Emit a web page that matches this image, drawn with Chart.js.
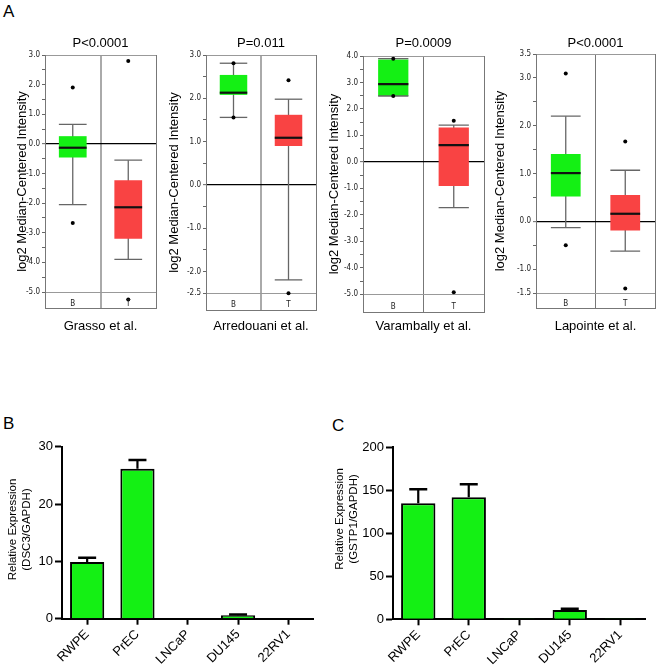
<!DOCTYPE html>
<html>
<head>
<meta charset="utf-8">
<script src="https://cdn.jsdelivr.net/npm/chart.js@4.4.1/dist/chart.umd.min.js"></script>
<style>
html,body{margin:0;padding:0;background:#fff;}
body{width:660px;height:670px;position:relative;overflow:hidden;font-family:'Liberation Sans',Arial,sans-serif;}
canvas{position:absolute;}
.letter{position:absolute;font-size:17px;line-height:17px;color:#000;}
</style>
</head>
<body>
<div class="letter" style="left:3px;top:3px">A</div>
<div class="letter" style="left:3px;top:415px">B</div>
<div class="letter" style="left:332px;top:417px">C</div>
<canvas id="a0"></canvas>
<canvas id="a1"></canvas>
<canvas id="a2"></canvas>
<canvas id="a3"></canvas>
<canvas id="b0"></canvas>
<canvas id="c0"></canvas>
<script>
// ---------------- DATA ----------------
// Panel A: box plots (B = benign, T = tumour), one row per study
const categories = ['B', 'T'];
const studies = ['Grasso et al.', 'Arredouani et al.', 'Varambally et al.', 'Lapointe et al.'];
const pLabels = ['P<0.0001', 'P=0.011', 'P=0.0009', 'P<0.0001'];
const whiskerLow  = [[-2.05, -3.90], [1.56, -2.19], [2.49, -1.73], [-0.13, -0.62]];
const quartile1   = [[-0.46, -3.20], [2.08,  0.90], [2.49, -0.91], [ 0.52, -0.19]];
const medians     = [[-0.13, -2.14], [2.13,  1.09], [2.94,  0.63], [ 1.01,  0.16]];
const quartile3   = [[ 0.26, -1.23], [2.54,  1.62], [3.87,  1.30], [ 1.41,  0.55]];
const whiskerHigh = [[ 0.66, -0.55], [2.81,  1.98], [3.90,  1.39], [ 2.20,  1.07]];
const outliersB   = [[1.90, -2.67], [2.81, 1.56], [3.90, 2.49], [3.09, -0.50]];
const outliersT   = [[2.80, -5.25], [2.42, -2.50], [1.55, -4.92], [1.67, -1.40]];
// labelled y ticks of each box plot (minor ticks every 0.5)
const yTickLabels = [
  [3, 2, 1, 0, -1, -2, -3, -4, -5],
  [3, 2, 1, 0, -1, -2, -2.5],
  [4, 3, 2, 1, 0, -1, -2, -3, -4, -5],
  [3.5, 3, 2, 1, 0, -1, -1.5]
];

// Panels B and C: qPCR bars
const cellLines = ['RWPE', 'PrEC', 'LNCaP', 'DU145', '22RV1'];
const dsc3Mean  = [9.88, 26.16, 0.10, 0.58, 0.03];
const dsc3Sem   = [0.76, 1.50, 0, 0.17, 0];
const gstp1Mean = [134.9, 141.9, 0.2, 10.85, 0.2];
const gstp1Sem  = [16.3, 15.1, 0, 1.5, 0];
const dsc3Ticks  = [0, 10, 20, 30];
const gstp1Ticks = [0, 50, 100, 150, 200];

// ---------------- STYLE / LAYOUT ----------------
Chart.defaults.font.family = "'Liberation Sans', Arial, sans-serif";
Chart.defaults.color = '#000';
const GREEN = '#14f014', RED = '#f94343';
const BOX_FRACTION = 0.5;
const NARROW = "'Liberation Sans Narrow', 'DejaVu Sans Condensed', sans-serif";

const boxLayout = [
  {left: 11,  width: 149, yw: 34, th: 25, xh: 30, min: -5.54,  div: '#aaa', divW: 2},
  {left: 163, width: 157, yw: 43, th: 25, xh: 28, min: -2.885, div: '#aaa', divW: 2},
  {left: 323, width: 165, yw: 40, th: 26, xh: 26, min: -5.67,  div: '#777', divW: 1},
  {left: 489, width: 170, yw: 47, th: 24, xh: 30, min: -1.81,  div: '#777', divW: 1}
];

function halfBox(ctx) {
  const a = ctx.chart.chartArea;
  if (!a) return 0;
  return (a.right - a.left) / categories.length * BOX_FRACTION / 2;
}

const boxLabels = {
  id: 'boxLabels',
  afterDatasetsDraw(chart, args, opts) {
    const {ctx, chartArea, scales} = chart;
    const yb = (scales.y.getPixelForValue(opts.bottom) + chartArea.bottom) / 2 + 3.5;
    ctx.save();
    ctx.font = '8px ' + NARROW;
    ctx.fillStyle = '#222';
    ctx.textAlign = 'center';
    ctx.textBaseline = 'middle';
    chart.data.labels.forEach((l, i) => ctx.fillText(l, scales.x.getPixelForValue(i), yb));
    ctx.restore();
  }
};

function placeCanvas(id, left, top, width, height) {
  const c = document.getElementById(id);
  c.width = width; c.height = height;
  c.style.left = left + 'px'; c.style.top = top + 'px';
  c.style.width = width + 'px'; c.style.height = height + 'px';
  return c;
}

function boxChart(i) {
  const g = boxLayout[i];
  const canvas = placeCanvas('a' + i, g.left, 30, g.width, 308);
  const labelled = yTickLabels[i];
  const top = labelled[0], bottom = labelled[labelled.length - 1];
  const tickVals = [];
  for (let v = top * 2; v >= bottom * 2; v--) tickVals.push(v / 2);

  const stems = [];
  const caps = [];
  const outs = [];
  categories.forEach((c, k) => {
    stems.push({x: c, y: whiskerLow[i][k]}, {x: c, y: whiskerHigh[i][k]}, {x: c, y: null});
    caps.push({x: c, y: whiskerLow[i][k]}, {x: c, y: whiskerHigh[i][k]});
  });
  const outVals = [outliersB[i], outliersT[i]];
  categories.forEach((c, k) => outVals[k].forEach(v => outs.push({x: c, y: v})));

  new Chart(canvas, {
    type: 'bar',
    plugins: [boxLabels],
    data: {
      labels: categories,
      datasets: [
        {type: 'line', data: stems, borderColor: '#666', borderWidth: 1.3, pointRadius: 0, spanGaps: false, order: 4},
        {data: categories.map((c, k) => [quartile1[i][k], quartile3[i][k]]), backgroundColor: [GREEN, RED],
         barPercentage: BOX_FRACTION, categoryPercentage: 1, order: 3},
        {type: 'line', data: caps, showLine: false, pointStyle: 'line', pointRadius: halfBox,
         pointBorderColor: '#666', pointBorderWidth: 1.3, order: 2},
        {type: 'line', data: medians[i], showLine: false, pointStyle: 'line', pointRadius: halfBox,
         pointBorderColor: '#111', pointBorderWidth: 2.2, order: 1},
        {type: 'line', data: outs, showLine: false, pointStyle: 'circle', pointRadius: 2,
         pointBackgroundColor: '#000', pointBorderWidth: 0, order: 0}
      ]
    },
    options: {
      responsive: false, animation: false, events: [],
      layout: {padding: {right: 2}},
      plugins: {legend: {display: false}, tooltip: {enabled: false}, boxLabels: {bottom: bottom}},
      scales: {
        x: {
          type: 'category', position: 'bottom', offset: true,
          grid: {offset: true, drawTicks: false,
                 color: c => c.index === 1 ? g.div : '#777',
                 lineWidth: c => c.index === 1 ? g.divW : 1},
          border: {display: true, color: '#777', width: 1},
          ticks: {display: false},
          title: {display: true, text: studies[i], font: {size: 13}, color: '#000', padding: {top: 0, bottom: 4}},
          afterFit: s => { s.height = g.xh; }
        },
        x2: {
          type: 'category', position: 'top',
          grid: {display: false}, border: {display: false}, ticks: {display: false},
          title: {display: true, text: pLabels[i], font: {size: 13}, color: '#000', padding: {top: 6, bottom: 0}},
          afterFit: s => { s.height = g.th; }
        },
        y: {
          type: 'linear', min: g.min, max: top,
          afterBuildTicks: s => { s.ticks = tickVals.map(v => ({value: v})); },
          ticks: {
            autoSkip: false, padding: 2, color: '#222', font: {family: NARROW, size: 8},
            callback: v => labelled.includes(v) ? v.toFixed(1) : ''
          },
          grid: {
            color: c => c.tick.value === 0 ? '#000' : ((c.tick.value === bottom || c.tick.value === top) ? '#999' : 'rgba(0,0,0,0)'),
            lineWidth: c => c.tick.value === 0 ? 1.3 : 1,
            tickColor: '#666', tickLength: 3, tickWidth: 1
          },
          border: {display: true, color: '#777', width: 1},
          title: {display: true, text: 'log2 Median-Centered Intensity', font: {size: 13}, color: '#000', padding: {top: 4, bottom: 0}},
          afterFit: s => { s.width = g.yw; }
        }
      }
    }
  });
}

function barChart(id, geo, values, sems, ticks, titleLines) {
  const canvas = placeCanvas(id, geo.left, geo.top, geo.width, geo.height);
  const stems = [];
  const caps = [];
  cellLines.forEach((c, k) => {
    if (sems[k] > 0) {
      stems.push({x: c, y: values[k]}, {x: c, y: values[k] + sems[k]}, {x: c, y: null});
      caps.push({x: c, y: values[k] + sems[k]});
    }
  });
  new Chart(canvas, {
    type: 'bar',
    data: {
      labels: cellLines,
      datasets: [
        {type: 'line', data: stems, borderColor: '#000', borderWidth: 2.2, pointRadius: 0, spanGaps: false, order: 1},
        {type: 'line', data: caps, showLine: false, pointStyle: 'line', pointRadius: 9,
         pointBorderColor: '#000', pointBorderWidth: 2.5, order: 0},
        {data: values, backgroundColor: GREEN, borderColor: '#000', borderWidth: 2,
         barPercentage: 0.68, categoryPercentage: 1, order: 2}
      ]
    },
    options: {
      responsive: false, animation: false, events: [],
      layout: {padding: {top: geo.padTop, right: 5}},
      plugins: {legend: {display: false}, tooltip: {enabled: false}},
      scales: {
        x: {
          type: 'category', offset: true,
          grid: {offset: false, drawOnChartArea: false, tickLength: 6, tickWidth: 2, tickColor: '#000'},
          border: {display: true, color: '#000', width: 2},
          ticks: {minRotation: 45, maxRotation: 45, padding: 2, color: '#000', font: {size: 13}},
          afterFit: s => { s.height = geo.xh; }
        },
        y: {
          type: 'linear', min: ticks[0], max: ticks[ticks.length - 1],
          afterBuildTicks: s => { s.ticks = ticks.map(v => ({value: v})); },
          grid: {drawOnChartArea: false, tickLength: 7, tickWidth: 2, tickColor: '#000'},
          border: {display: true, color: '#000', width: 2},
          ticks: {padding: 2, color: '#000', font: {size: 13}},
          title: {display: true, text: titleLines, font: {size: 11.5}, color: '#000', padding: {top: 4, bottom: 0}},
          afterFit: s => { s.width = geo.yw; }
        }
      }
    }
  });
}

for (let i = 0; i < studies.length; i++) boxChart(i);
barChart('b0', {left: 2, top: 434, width: 323, height: 234, padTop: 12.7, yw: 60, xh: 49.3},
         dsc3Mean, dsc3Sem, dsc3Ticks, ['  Relative Expression', '  (DSC3/GAPDH)']);
barChart('c0', {left: 329, top: 434, width: 328, height: 234, padTop: 13.3, yw: 64, xh: 48.7},
         gstp1Mean, gstp1Sem, gstp1Ticks, ['         Relative Expression', '         (GSTP1/GAPDH)']);
</script>
</body>
</html>
